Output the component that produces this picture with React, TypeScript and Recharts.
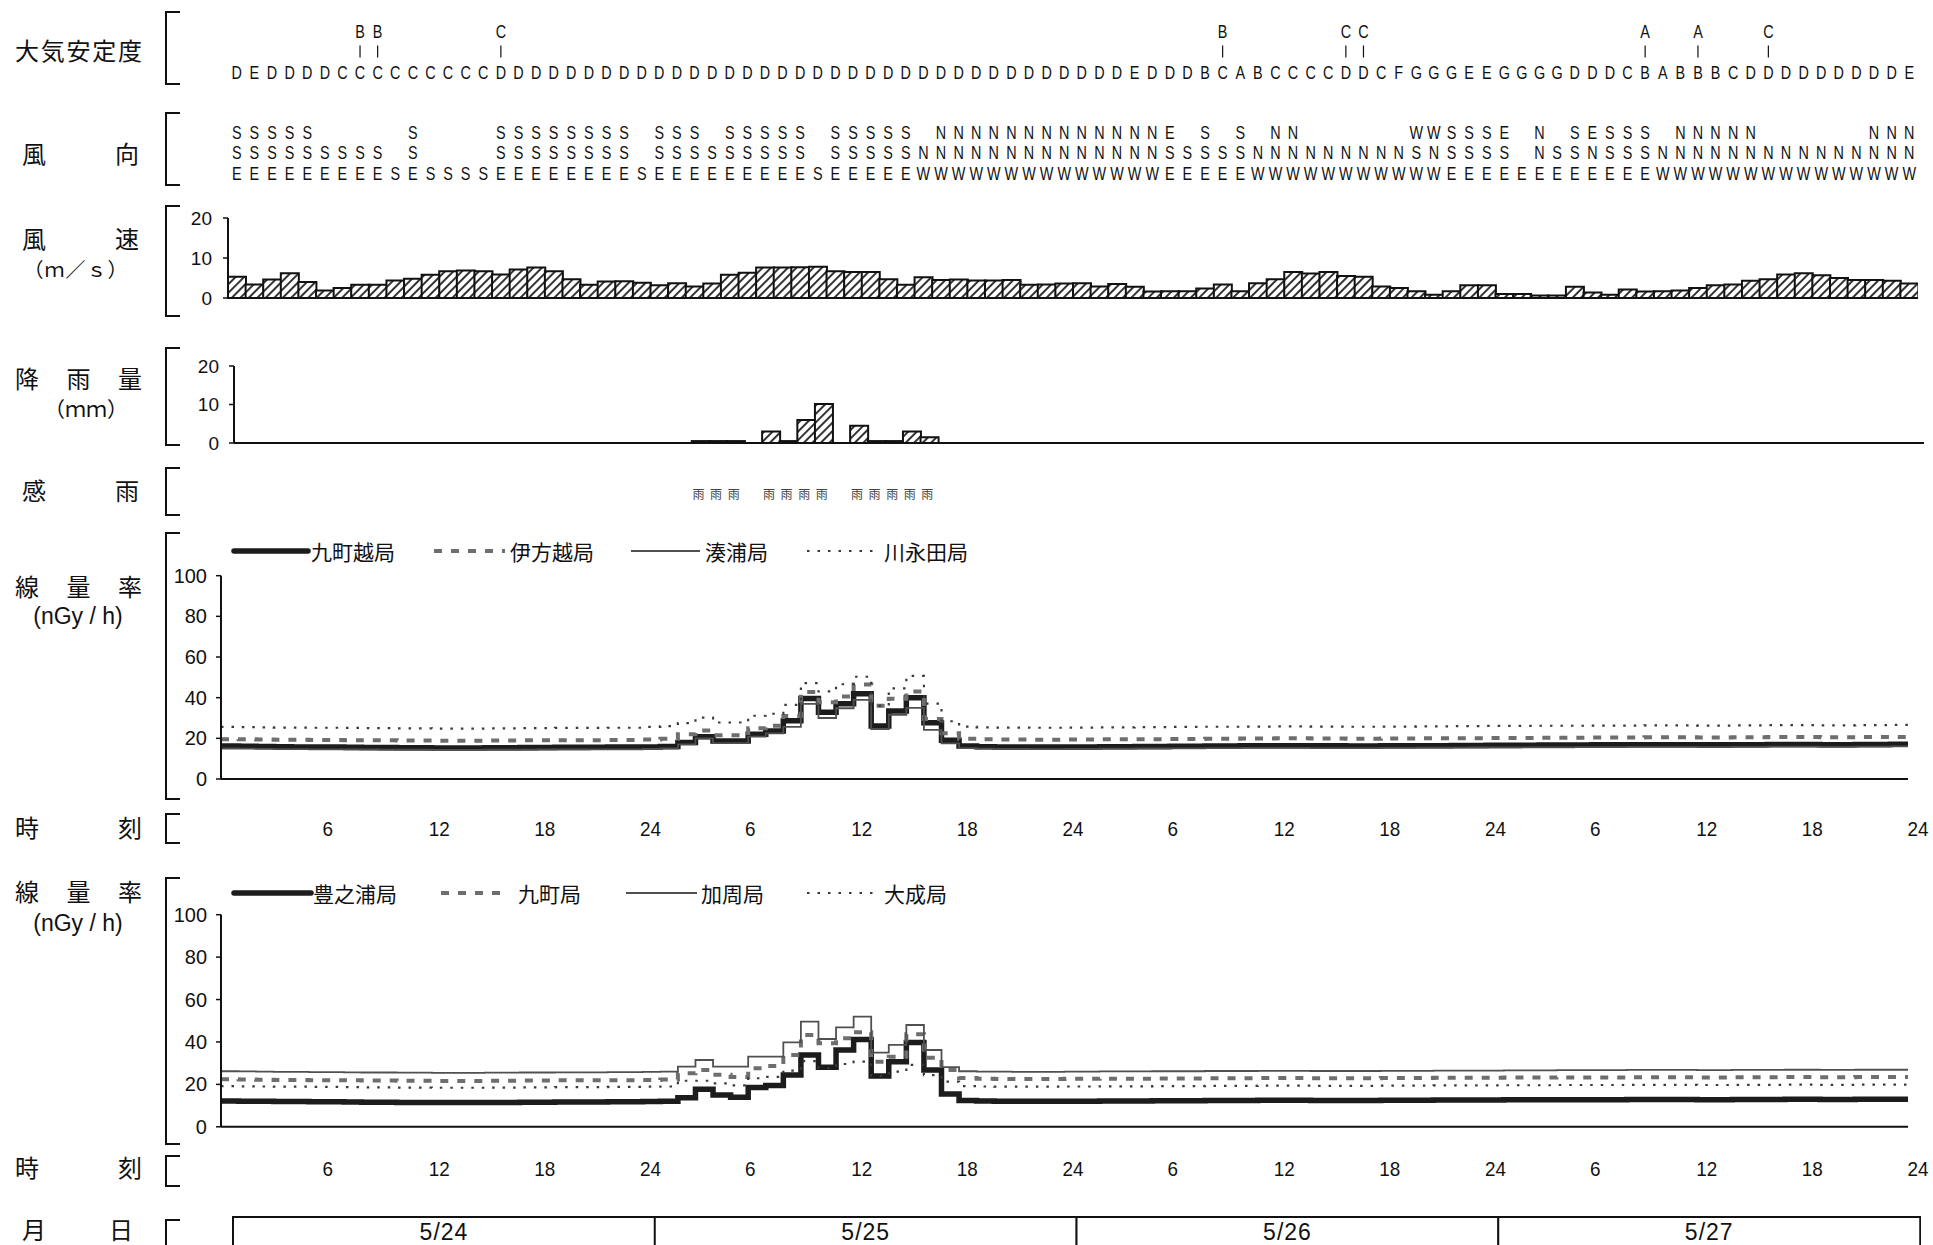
import React from "react";
import {
  BarChart,
  Bar,
  XAxis,
  YAxis,
  ReferenceLine,
  ScatterChart,
  Scatter,
  LineChart,
  Line,
  LabelList,
} from "recharts";

const NARROW = "'Liberation Sans Narrow', 'Liberation Sans', Arial, sans-serif";
const SANS = "'Liberation Sans', Arial, sans-serif";
const JP = "'Noto Sans CJK JP', 'Noto Sans', sans-serif";

// 大気安定度: one class per hour (96 hours, 5/24 1時 .. 5/27 24時)
const stability = (
  "DEDDDDCCCCCC" + "CCCDDDDDDDDD" + "DDDDDDDDDDDD" + "DDDDDDDDDDDD" +
  "DDDEDDDBCABC" + "CCCDDCFGGGEE" + "GGGGDDDCBABB" + "BCDDDDDDDDDE"
).split("");
const stabilityUpperHours = [7, 8, 15, 56, 63, 64, 80, 83, 87];
const stabilityUpper = ["B", "B", "C", "B", "C", "C", "A", "A", "C"];

// 風向
const windDir = [
  "SSE", "SSE", "SSE", "SSE", "SSE", "SE", "SE", "SE", "SE", "S", "SSE", "S",
  "S", "S", "S", "SSE", "SSE", "SSE", "SSE", "SSE", "SSE", "SSE", "SSE", "S",
  "SSE", "SSE", "SSE", "SE", "SSE", "SSE", "SSE", "SSE", "SSE", "S", "SSE", "SSE",
  "SSE", "SSE", "SSE", "NW", "NNW", "NNW", "NNW", "NNW", "NNW", "NNW", "NNW", "NNW",
  "NNW", "NNW", "NNW", "NNW", "NNW", "ESE", "SE", "SSE", "SE", "SSE", "NW", "NNW",
  "NNW", "NW", "NW", "NW", "NW", "NW", "NW", "WSW", "WNW", "SSE", "SSE", "SSE",
  "ESE", "E", "NNE", "SE", "SSE", "ENE", "SSE", "SSE", "SSE", "NW", "NNW", "NNW",
  "NNW", "NNW", "NNW", "NW", "NW", "NW", "NW", "NW", "NW", "NNW", "NNW", "NNW",
];

// 風速 (m/s)
const windSpeed = [
  5.3, 3.4, 4.6, 6.2, 4.0, 1.9, 2.5, 3.3, 3.3, 4.4, 4.8, 5.8, 6.7, 6.9, 6.7, 5.9, 7.1, 7.6, 6.7, 4.7, 3.3, 4.1, 4.2, 3.8,
  3.2, 3.7, 2.9, 3.6, 5.8, 6.3, 7.6, 7.6, 7.7, 7.8, 6.7, 6.5, 6.5, 4.7, 3.3, 5.2, 4.5, 4.6, 4.4, 4.4, 4.5, 3.3, 3.4, 3.6,
  3.7, 2.9, 3.5, 2.8, 1.6, 1.7, 1.7, 2.4, 3.4, 1.7, 3.7, 4.7, 6.5, 6.1, 6.5, 5.5, 5.3, 2.9, 2.5, 1.7, 0.8, 1.7, 3.2, 3.2,
  1.0, 1.0, 0.6, 0.6, 2.8, 1.4, 0.8, 2.1, 1.6, 1.7, 1.9, 2.5, 3.2, 3.4, 4.3, 4.7, 5.9, 6.2, 5.7, 5.0, 4.5, 4.5, 4.3, 3.6,
];

// 降雨量 (mm)
const rainfall = [
  0, 0, 0, 0, 0, 0, 0, 0, 0, 0, 0, 0, 0, 0, 0, 0, 0, 0, 0, 0, 0, 0, 0, 0,
  0, 0, 0.5, 0.5, 0.5, 0, 3.0, 0.5, 6.0, 10.1, 0, 4.5, 0.5, 0.5, 3.0, 1.5, 0, 0, 0, 0, 0, 0, 0, 0,
  0, 0, 0, 0, 0, 0, 0, 0, 0, 0, 0, 0, 0, 0, 0, 0, 0, 0, 0, 0, 0, 0, 0, 0,
  0, 0, 0, 0, 0, 0, 0, 0, 0, 0, 0, 0, 0, 0, 0, 0, 0, 0, 0, 0, 0, 0, 0, 0,
];

// 感雨
const rainSenseHours = [26, 27, 28, 30, 31, 32, 33, 35, 36, 37, 38, 39];

// 線量率 (nGy/h) upper panel
const kuchomachikoshi = [
  16.2, 16.1, 16.0, 15.9, 15.8, 15.8, 15.7, 15.6, 15.5, 15.5, 15.4, 15.4, 15.3, 15.3, 15.3, 15.4, 15.4, 15.5, 15.5, 15.6, 15.6, 15.6, 15.7, 15.7,
  15.8, 16.0, 17.9, 20.8, 18.7, 18.7, 22.0, 23.6, 28.6, 39.6, 32.8, 37.0, 41.9, 26.1, 33.5, 40.0, 27.7, 19.0, 16.2, 15.9, 15.8, 15.8, 15.7, 15.7,
  15.8, 15.8, 15.9, 15.9, 16.0, 16.0, 16.1, 16.1, 16.2, 16.2, 16.3, 16.3, 16.4, 16.4, 16.3, 16.3, 16.2, 16.2, 16.3, 16.3, 16.4, 16.4, 16.5, 16.5,
  16.6, 16.6, 16.6, 16.7, 16.7, 16.7, 16.8, 16.8, 16.8, 16.9, 16.9, 16.9, 16.8, 16.8, 16.9, 16.9, 17.0, 17.0, 17.0, 16.9, 16.9, 17.0, 17.0, 17.1,
];
const ikatakoshi = [
  19.6, 19.5, 19.4, 19.3, 19.3, 19.2, 19.2, 19.1, 19.0, 19.0, 18.9, 18.9, 18.8, 18.8, 18.8, 18.9, 18.9, 19.0, 19.0, 19.1, 19.1, 19.1, 19.2, 19.2,
  19.4, 19.8, 22.0, 23.8, 21.5, 21.5, 25.0, 26.2, 31.0, 42.8, 37.7, 40.6, 46.5, 36.0, 39.5, 43.0, 29.5, 22.5, 19.8, 19.5, 19.4, 19.4, 19.3, 19.3,
  19.4, 19.4, 19.5, 19.5, 19.6, 19.6, 19.7, 19.7, 19.8, 19.8, 19.9, 19.9, 20.0, 20.0, 19.9, 19.9, 19.8, 19.8, 19.9, 19.9, 20.0, 20.0, 20.1, 20.1,
  20.2, 20.2, 20.2, 20.3, 20.3, 20.3, 20.4, 20.4, 20.4, 20.5, 20.5, 20.5, 20.4, 20.4, 20.5, 20.5, 20.6, 20.6, 20.6, 20.5, 20.5, 20.6, 20.6, 20.7,
];
const minatoura = [
  15.0, 14.9, 14.8, 14.7, 14.7, 14.6, 14.6, 14.5, 14.5, 14.4, 14.4, 14.4, 14.3, 14.3, 14.3, 14.4, 14.4, 14.4, 14.5, 14.5, 14.5, 14.6, 14.6, 14.6,
  14.8, 15.0, 17.0, 20.0, 17.6, 17.6, 20.8, 22.4, 25.6, 37.0, 30.0, 34.8, 38.9, 24.5, 31.6, 35.0, 24.2, 17.5, 15.2, 14.9, 14.8, 14.8, 14.7, 14.7,
  14.8, 14.8, 14.9, 14.9, 15.0, 15.0, 15.1, 15.1, 15.2, 15.2, 15.3, 15.3, 15.3, 15.3, 15.2, 15.2, 15.2, 15.2, 15.3, 15.3, 15.4, 15.4, 15.4, 15.5,
  15.5, 15.5, 15.6, 15.6, 15.6, 15.7, 15.7, 15.7, 15.8, 15.8, 15.8, 15.8, 15.7, 15.7, 15.8, 15.8, 15.9, 15.9, 15.9, 15.8, 15.8, 15.9, 15.9, 16.0,
];
const kawanagata = [
  25.6, 25.5, 25.4, 25.3, 25.3, 25.2, 25.2, 25.1, 25.0, 25.0, 24.9, 24.9, 24.8, 24.8, 24.8, 24.9, 24.9, 25.0, 25.0, 25.1, 25.1, 25.1, 25.2, 25.2,
  25.6, 26.0, 27.5, 30.2, 27.8, 27.8, 31.1, 32.1, 36.5, 47.2, 43.1, 46.6, 50.3, 36.0, 44.6, 50.7, 37.1, 28.4, 25.8, 25.4, 25.3, 25.3, 25.2, 25.2,
  25.3, 25.3, 25.4, 25.4, 25.5, 25.5, 25.6, 25.6, 25.7, 25.7, 25.8, 25.8, 25.9, 25.9, 25.8, 25.8, 25.7, 25.7, 25.8, 25.8, 25.9, 25.9, 26.0, 26.0,
  26.1, 26.1, 26.1, 26.2, 26.2, 26.2, 26.3, 26.3, 26.3, 26.4, 26.4, 26.4, 26.3, 26.3, 26.4, 26.4, 26.5, 26.5, 26.5, 26.4, 26.4, 26.5, 26.5, 26.6,
];

// 線量率 (nGy/h) lower panel
const toyonoura = [
  12.2, 12.1, 12.0, 11.9, 11.9, 11.8, 11.8, 11.7, 11.6, 11.6, 11.5, 11.5, 11.4, 11.4, 11.4, 11.5, 11.5, 11.6, 11.6, 11.7, 11.7, 11.7, 11.8, 11.8,
  11.9, 12.0, 13.7, 17.7, 15.0, 13.9, 18.5, 19.5, 24.4, 33.9, 28.1, 36.2, 41.2, 24.0, 30.7, 39.8, 26.8, 15.5, 12.4, 12.2, 12.1, 12.1, 12.0, 12.0,
  12.1, 12.1, 12.2, 12.2, 12.2, 12.3, 12.3, 12.3, 12.4, 12.4, 12.4, 12.5, 12.5, 12.5, 12.4, 12.4, 12.4, 12.4, 12.5, 12.5, 12.5, 12.6, 12.6, 12.6,
  12.6, 12.7, 12.7, 12.7, 12.8, 12.8, 12.8, 12.8, 12.9, 12.9, 12.9, 12.9, 12.8, 12.8, 12.9, 12.9, 12.9, 13.0, 13.0, 12.9, 12.9, 13.0, 13.0, 13.0,
];
const kuchomachi = [
  22.4, 22.3, 22.2, 22.1, 22.1, 22.0, 22.0, 21.9, 21.8, 21.8, 21.7, 21.7, 21.6, 21.6, 21.6, 21.7, 21.7, 21.8, 21.8, 21.9, 21.9, 21.9, 22.0, 22.0,
  22.1, 22.3, 25.2, 26.8, 24.5, 23.5, 27.6, 28.7, 33.9, 43.3, 39.4, 41.7, 44.6, 30.7, 33.0, 43.6, 32.6, 26.8, 23.0, 22.6, 22.5, 22.5, 22.5, 22.5,
  22.6, 22.6, 22.7, 22.7, 22.7, 22.8, 22.8, 22.8, 22.9, 22.9, 22.9, 23.0, 23.0, 23.0, 22.9, 22.9, 22.9, 22.9, 23.0, 23.0, 23.0, 23.1, 23.1, 23.1,
  23.1, 23.2, 23.2, 23.2, 23.3, 23.3, 23.3, 23.3, 23.4, 23.4, 23.4, 23.4, 23.3, 23.3, 23.4, 23.4, 23.4, 23.5, 23.5, 23.4, 23.4, 23.5, 23.5, 23.5,
];
const kashu = [
  26.2, 26.1, 26.0, 25.9, 25.9, 25.8, 25.8, 25.7, 25.6, 25.6, 25.5, 25.5, 25.4, 25.4, 25.4, 25.5, 25.5, 25.6, 25.6, 25.7, 25.7, 25.7, 25.8, 25.8,
  25.9, 26.0, 28.4, 31.5, 28.4, 28.4, 33.1, 33.1, 39.8, 49.6, 41.4, 46.9, 51.9, 35.0, 38.6, 48.0, 36.2, 28.1, 26.2, 26.0, 26.0, 25.9, 25.9, 25.9,
  26.0, 26.0, 26.1, 26.1, 26.1, 26.2, 26.2, 26.2, 26.3, 26.3, 26.3, 26.4, 26.4, 26.4, 26.3, 26.3, 26.3, 26.3, 26.4, 26.4, 26.4, 26.5, 26.5, 26.5,
  26.5, 26.6, 26.6, 26.6, 26.7, 26.7, 26.7, 26.7, 26.8, 26.8, 26.8, 26.8, 26.7, 26.7, 26.8, 26.8, 26.8, 26.9, 26.9, 26.8, 26.8, 26.9, 26.9, 26.9,
];
const oonari = [
  19.2, 19.1, 19.0, 18.9, 18.9, 18.8, 18.8, 18.7, 18.6, 18.6, 18.5, 18.5, 18.4, 18.4, 18.4, 18.5, 18.5, 18.6, 18.6, 18.7, 18.7, 18.7, 18.8, 18.8,
  18.9, 19.0, 21.7, 21.7, 20.5, 19.5, 22.9, 23.5, 26.5, 31.0, 27.6, 29.6, 30.7, 24.0, 26.0, 29.2, 24.4, 21.3, 19.2, 19.0, 18.9, 18.9, 18.9, 18.9,
  19.0, 19.0, 19.1, 19.1, 19.1, 19.2, 19.2, 19.2, 19.3, 19.3, 19.3, 19.4, 19.4, 19.4, 19.3, 19.3, 19.3, 19.3, 19.4, 19.4, 19.4, 19.5, 19.5, 19.5,
  19.5, 19.6, 19.6, 19.6, 19.7, 19.7, 19.7, 19.7, 19.8, 19.8, 19.8, 19.8, 19.7, 19.7, 19.8, 19.8, 19.8, 19.9, 19.9, 19.8, 19.8, 19.9, 19.9, 19.9,
];

const timeTickHours = [6, 12, 18, 24, 30, 36, 42, 48, 54, 60, 66, 72, 78, 84, 90, 96];
const timeTickLabels = ["6", "12", "18", "24", "6", "12", "18", "24", "6", "12", "18", "24", "6", "12", "18", "24"];
const doseXTicks = [0, 6, 12, 18, 24, 30, 36, 42, 48, 54, 60, 66, 72, 78, 84, 90, 96];
const dates = ["5/24", "5/25", "5/26", "5/27"];

// ---- derived tables for the library ----
const stabilityMain = stability.map((t, i) => ({ x: i + 0.5, y: 0, t }));
const stabilityTop = stabilityUpperHours.map((h, k) => ({ x: h + 0.5, y: 2, t: stabilityUpper[k] }));
const stabilityMid = stabilityUpperHours.map((h) => ({ x: h + 0.5, y: 1, t: "|" }));

const windRows: { x: number; y: number; t: string }[][] = [[], [], []];
windDir.forEach((d, i) => {
  const letters = d.split("");
  const off = 3 - letters.length;
  letters.forEach((c, k) => windRows[off + k].push({ x: i + 0.5, y: 2 - (off + k), t: c }));
});

const rainSense = rainSenseHours.map((h) => ({ x: h + 0.5, y: 0, t: "雨" }));
const timeTicks = timeTickHours.map((h, k) => ({ x: h, y: 0, t: timeTickLabels[k] }));

const windData = windSpeed.map((v, i) => ({ h: i, v }));
const rainData = rainfall.map((v, i) => ({ h: i, v }));
const dateData = dates.map((d) => ({ d, v: 1 }));

const steps = Array.from({ length: 97 }, (_, x) => x);
const dose1 = steps.map((x) => {
  const i = Math.min(x, 95);
  return { x, a: kuchomachikoshi[i], b: ikatakoshi[i], c: minatoura[i], d: kawanagata[i] };
});
const dose2 = steps.map((x) => {
  const i = Math.min(x, 95);
  return { x, a: toyonoura[i], b: kuchomachi[i], c: kashu[i], d: oonari[i] };
});

// letters drawn a bit condensed, like the narrow face of the original
const letterShape = (size: number, fill = "#111") => (p: any) => (
  <text
    transform={`translate(${p.cx},${p.cy}) scale(0.8,1)`}
    textAnchor="middle"
    dominantBaseline="central"
    fontSize={size}
    fontFamily={SANS}
    fill={fill}
  >
    {p.payload.t}
  </text>
);

const rainShape = (p: any) => (
  <text
    x={p.cx}
    y={p.cy}
    textAnchor="middle"
    dominantBaseline="central"
    fontSize={12}
    fontFamily={JP}
    fill="#444"
  >
    {p.payload.t}
  </text>
);

const barShape = (p: any) => (
  <line x1={p.cx} x2={p.cx} y1={p.cy - 6} y2={p.cy + 6} stroke="#111" strokeWidth={1.2} />
);

const timeShape = (p: any) => (
  <text
    transform={`translate(${p.cx + (p.payload.t.length === 1 ? -6 : 0)},${p.cy}) scale(0.9,1)`}
    textAnchor="middle"
    dominantBaseline="central"
    fontSize={21}
    fontFamily={SANS}
    fill="#111"
  >
    {p.payload.t}
  </text>
);

function TextRow({ top, height, mt, mb, left = 228, width = 1690, yMax, children }: any) {
  return (
    <div style={{ position: "absolute", left, top }}>
      <ScatterChart width={width + 20} height={height} margin={{ top: mt, right: 20, bottom: mb, left: 0 }}>
        <XAxis type="number" dataKey="x" domain={[0, 96]} hide />
        <YAxis type="number" dataKey="y" domain={[0, yMax]} hide />
        {children}
      </ScatterChart>
    </div>
  );
}

function Hatch({ id }: { id: string }) {
  return (
    <defs>
      <pattern id={id} patternUnits="userSpaceOnUse" width={6} height={6} patternTransform="rotate(45)">
        <rect width={6} height={6} fill="#fff" />
        <line x1={1} y1={0} x2={1} y2={6} stroke="#333" strokeWidth={2} />
      </pattern>
    </defs>
  );
}

function RowLabel({ y, chars, left = 15, right = 142, size = 24 }: any) {
  return (
    <div
      style={{
        position: "absolute",
        left,
        width: right - left,
        top: y - size / 2 - 2,
        height: size,
        lineHeight: `${size}px`,
        display: "flex",
        justifyContent: "space-between",
        fontFamily: JP,
        fontSize: size,
        color: "#111",
      }}
    >
      {chars.map((c: string, k: number) => (
        <span key={k}>{c}</span>
      ))}
    </div>
  );
}

function SubLabel({ y, cx, text, size = 20, family = JP, spacing = 0 }: any) {
  return (
    <div
      style={{
        position: "absolute",
        left: cx - 80,
        width: 160,
        top: y - size / 2 - 2,
        lineHeight: `${size}px`,
        textAlign: "center",
        fontFamily: family,
        fontSize: size,
        letterSpacing: spacing,
        color: "#111",
        whiteSpace: "nowrap",
      }}
    >
      {text}
    </div>
  );
}

const brackets = [
  [12, 84], [113, 185], [206, 316], [348, 445], [468, 515],
  [533, 799], [814, 843], [878, 1144], [1156, 1186], [1220, 1270],
];

const legendItems = [
  { y: 551, x1: 234, x2: 308, tx: 311, label: "九町越局", kind: "thick" },
  { y: 551, x1: 434, x2: 505, tx: 510, label: "伊方越局", kind: "dash" },
  { y: 551, x1: 631, x2: 700, tx: 705, label: "湊浦局", kind: "thin" },
  { y: 551, x1: 807, x2: 880, tx: 884, label: "川永田局", kind: "dot" },
  { y: 893, x1: 234, x2: 311, tx: 313, label: "豊之浦局", kind: "thick" },
  { y: 893, x1: 441, x2: 508, tx: 518, label: "九町局", kind: "dash" },
  { y: 893, x1: 626, x2: 697, tx: 701, label: "加周局", kind: "thin" },
  { y: 893, x1: 807, x2: 880, tx: 884, label: "大成局", kind: "dot" },
];

const lineStyle: Record<string, any> = {
  thick: { stroke: "#1c1c1c", strokeWidth: 5.5 },
  dash: { stroke: "#6e6e6e", strokeWidth: 4, strokeDasharray: "8 9" },
  thin: { stroke: "#505050", strokeWidth: 1.8 },
  dot: { stroke: "#3a3a3a", strokeWidth: 2.2, strokeDasharray: "2.5 8" },
};

function DoseChart({ top, height, mt, data }: any) {
  return (
    <div style={{ position: "absolute", left: 150, top }}>
      <LineChart width={71 + 1687} height={height} data={data} margin={{ top: mt, right: 0, bottom: 4, left: 0 }}>
        <XAxis
          type="number"
          dataKey="x"
          domain={[0, 96]}
          ticks={doseXTicks}
          interval={0}
          tick={false}
          tickSize={6}
          height={8}
          axisLine={{ stroke: "#111", strokeWidth: 2 }}
          tickLine={{ stroke: "#111", strokeWidth: 1.5 }}
        />
        <YAxis
          type="number"
          domain={[0, 100]}
          ticks={[0, 20, 40, 60, 80, 100]}
          interval={0}
          width={71}
          tickSize={5}
          tickMargin={9}
          axisLine={{ stroke: "#111", strokeWidth: 2 }}
          tickLine={{ stroke: "#111", strokeWidth: 1.5 }}
          tick={{ fontSize: 20, fill: "#111", fontFamily: NARROW }}
        />
        <Line type="stepAfter" dataKey="a" dot={false} activeDot={false} isAnimationActive={false} {...lineStyle.thick} />
        <Line type="stepAfter" dataKey="b" dot={false} activeDot={false} isAnimationActive={false} {...lineStyle.dash} />
        <Line type="stepAfter" dataKey="c" dot={false} activeDot={false} isAnimationActive={false} {...lineStyle.thin} />
        <Line type="stepAfter" dataKey="d" dot={false} activeDot={false} isAnimationActive={false} {...lineStyle.dot} />
      </LineChart>
    </div>
  );
}

export default function App() {
  return (
    <div
      style={{
        position: "absolute",
        left: 0,
        top: 0,
        width: 1933,
        height: 1245,
        overflow: "hidden",
        background: "#fff",
      }}
    >
      {/* row labels */}
      <RowLabel y={52} chars={["大", "気", "安", "定", "度"]} />
      <RowLabel y={155} chars={["風", "向"]} left={22} right={139} />
      <RowLabel y={240} chars={["風", "速"]} left={22} right={139} />
      <SubLabel y={271} cx={76} text="（ｍ／ｓ）" size={20} spacing={1} />
      <RowLabel y={380} chars={["降", "雨", "量"]} />
      <SubLabel y={410} cx={86} text="（ｍｍ）" size={21} />
      <RowLabel y={492} chars={["感", "雨"]} left={22} right={139} />
      <RowLabel y={588} chars={["線", "量", "率"]} />
      <SubLabel y={618} cx={78} text="(nGy / h)" size={23} family={NARROW} />
      <RowLabel y={829} chars={["時", "刻"]} />
      <RowLabel y={893} chars={["線", "量", "率"]} />
      <SubLabel y={925} cx={78} text="(nGy / h)" size={23} family={NARROW} />
      <RowLabel y={1169} chars={["時", "刻"]} />
      <RowLabel y={1231} chars={["月", "日"]} left={22} right={133} />

      {/* 大気安定度 */}
      <TextRow top={0} height={100} mt={31} mb={28} yMax={2}>
        <Scatter data={stabilityTop} shape={letterShape(18)} isAnimationActive={false} />
        <Scatter data={stabilityMid} shape={barShape} isAnimationActive={false} />
        <Scatter data={stabilityMain} shape={letterShape(18)} isAnimationActive={false} />
      </TextRow>

      {/* 風向 */}
      <TextRow top={100} height={100} mt={32} mb={27} yMax={2}>
        <Scatter data={windRows[0]} shape={letterShape(18)} isAnimationActive={false} />
        <Scatter data={windRows[1]} shape={letterShape(18)} isAnimationActive={false} />
        <Scatter data={windRows[2]} shape={letterShape(18)} isAnimationActive={false} />
      </TextRow>

      {/* 風速 */}
      <div style={{ position: "absolute", left: 150, top: 200 }}>
        <BarChart
          width={78 + 1690}
          height={110}
          data={windData}
          margin={{ top: 18, right: 0, bottom: 12, left: 0 }}
          barCategoryGap={0}
        >
          <Hatch id="hatchWind" />
          <XAxis dataKey="h" hide />
          <YAxis
            domain={[0, 20]}
            ticks={[0, 10, 20]}
            interval={0}
            width={78}
            tickSize={5}
            tickMargin={11}
            axisLine={{ stroke: "#111", strokeWidth: 2 }}
            tickLine={{ stroke: "#111", strokeWidth: 1.5 }}
            tick={{ fontSize: 19, fill: "#111", fontFamily: NARROW }}
          />
          <ReferenceLine y={0} stroke="#111" strokeWidth={2} />
          <Bar dataKey="v" fill="url(#hatchWind)" stroke="#111" strokeWidth={2} isAnimationActive={false} />
        </BarChart>
      </div>

      {/* 降雨量 */}
      <div style={{ position: "absolute", left: 150, top: 340 }}>
        <BarChart
          width={84 + 1690}
          height={120}
          data={rainData}
          margin={{ top: 26, right: 0, bottom: 17, left: 0 }}
          barCategoryGap={0}
        >
          <Hatch id="hatchRain" />
          <XAxis dataKey="h" hide />
          <YAxis
            domain={[0, 20]}
            ticks={[0, 10, 20]}
            interval={0}
            width={84}
            tickSize={5}
            tickMargin={10}
            axisLine={{ stroke: "#111", strokeWidth: 2 }}
            tickLine={{ stroke: "#111", strokeWidth: 1.5 }}
            tick={{ fontSize: 19, fill: "#111", fontFamily: NARROW }}
          />
          <ReferenceLine y={0} stroke="#111" strokeWidth={2} />
          <Bar dataKey="v" fill="url(#hatchRain)" stroke="#111" strokeWidth={2} isAnimationActive={false} />
        </BarChart>
      </div>

      {/* 感雨 */}
      <TextRow top={470} left={232} height={50} mt={10} mb={27} yMax={1}>
        <Scatter data={rainSense} shape={rainShape} isAnimationActive={false} />
      </TextRow>

      {/* 線量率 */}
      <DoseChart top={560} height={231} mt={15.7} data={dose1} />
      <TextRow top={800} height={50} mt={10} mb={21} yMax={1}>
        <Scatter data={timeTicks} shape={timeShape} isAnimationActive={false} />
      </TextRow>

      <DoseChart top={900} height={238.8} mt={14.7} data={dose2} />
      <TextRow top={1141} height={50} mt={10} mb={22} yMax={1}>
        <Scatter data={timeTicks} shape={timeShape} isAnimationActive={false} />
      </TextRow>

      {/* 月日 */}
      <div style={{ position: "absolute", left: 232, top: 1216 }}>
        <BarChart width={1689} height={60} data={dateData} margin={{ top: 1, right: 1, bottom: 0, left: 1 }} barCategoryGap={0}>
          <XAxis dataKey="d" hide />
          <YAxis domain={[0, 1]} hide />
          <Bar dataKey="v" fill="#fff" stroke="#111" strokeWidth={2} isAnimationActive={false}>
            <LabelList
              dataKey="d"
              content={(p: any) => (
                <text
                  x={p.x + p.width / 2}
                  y={p.y + 15}
                  textAnchor="middle"
                  dominantBaseline="central"
                  fontSize={23}
                  fontFamily={SANS}
                  fill="#111"
                  letterSpacing={1}
                >
                  {p.value}
                </text>
              )}
            />
          </Bar>
        </BarChart>
      </div>

      {/* brackets and legends */}
      <svg width={1933} height={1245} style={{ position: "absolute", left: 0, top: 0, pointerEvents: "none" }}>
        {brackets.map(([a, b], k) => (
          <path key={k} d={`M180 ${a} H166 V${b} H180`} fill="none" stroke="#111" strokeWidth={2} />
        ))}
        {legendItems.map((l, k) => (
          <g key={k}>
            <line
              x1={l.x1}
              x2={l.x2}
              y1={l.y}
              y2={l.y}
              strokeLinecap={l.kind === "thick" ? "round" : "butt"}
              {...lineStyle[l.kind]}
            />
            <text x={l.tx} y={l.y} dominantBaseline="central" fontSize={21} fontFamily={JP} fill="#111">
              {l.label}
            </text>
          </g>
        ))}
      </svg>
    </div>
  );
}
